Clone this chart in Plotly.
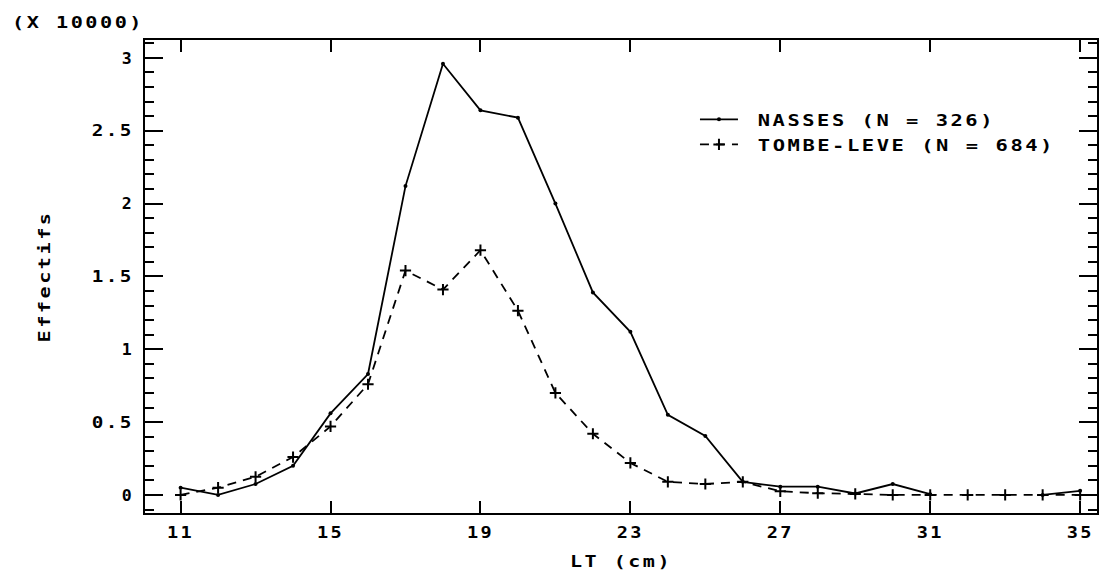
import plotly.graph_objects as go

lt = [11, 12, 13, 14, 15, 16, 17, 18, 19, 20, 21, 22, 23, 24, 25, 26, 27, 28, 29, 30, 31, 32, 33, 34, 35]
nasses = [0.05, 0.0, 0.075, 0.2, 0.56, 0.83, 2.12, 2.96, 2.64, 2.59, 2.0, 1.39, 1.12, 0.55, 0.405, 0.09,
          0.057, 0.057, 0.01, 0.075, 0.005, None, None, 0.0, 0.028]
tombe = [0.0, 0.05, 0.125, 0.26, 0.47, 0.76, 1.54, 1.41, 1.68, 1.265, 0.70, 0.42, 0.22, 0.09, 0.075, 0.09,
         0.025, 0.012, 0.007, 0.0, 0.0, 0.0, 0.0, 0.0, 0.0]
xticks = [11, 15, 19, 23, 27, 31, 35]
yticks = [0, 0.5, 1, 1.5, 2, 2.5, 3]
ytick_text = ["0", "0.5", "1", "1.5", "2", "2.5", "3"]

FONT = "DejaVu Sans Mono"
TXT = dict(family=FONT, size=16, color="black", weight="bold")

fig = go.Figure()
fig.add_trace(go.Scatter(
    x=lt, y=nasses, mode="lines+markers", name="\u00a0NASSES (N = 326)",
    line=dict(color="black", width=1.8),
    marker=dict(symbol="circle", size=4, color="black"),
    connectgaps=False, legend="legend",
))
fig.add_trace(go.Scatter(
    x=lt, y=tombe, mode="lines+markers", name="\u00a0TOMBE-LEVE (N = 684)",
    line=dict(color="black", width=1.8, dash="9px,7px"),
    marker=dict(symbol="cross-thin", size=8, color="black", line=dict(color="black", width=2)),
    legend="legend2",
))

leg_common = dict(x=0.5777, xanchor="left", yanchor="middle", bgcolor="rgba(0,0,0,0)",
                  font=TXT, itemwidth=38)

fig.update_layout(
    width=1109, height=574,
    margin=dict(l=145, r=12, t=40, b=61),
    paper_bgcolor="white", plot_bgcolor="white",
    font=TXT,
    showlegend=True,
    legend=dict(y=0.832, **leg_common),
    legend2=dict(y=0.779, **leg_common),
    xaxis=dict(
        range=[10.05, 35.45], tickvals=xticks, ticktext=[str(v) for v in xticks],
        ticks="inside", ticklen=12, tickwidth=1.5, tickcolor="black",
        showline=True, linecolor="black", linewidth=2, mirror="ticks",
        showgrid=False, zeroline=False, automargin=False,
        tickfont=TXT, ticklabelstandoff=4,
        title=dict(text="LT (cm)", font=TXT, standoff=15),
    ),
    yaxis=dict(
        range=[-0.124, 3.123], tickvals=yticks, ticktext=ytick_text,
        ticks="inside", ticklen=18, tickwidth=1.5, tickcolor="black",
        showline=True, linecolor="black", linewidth=2, mirror="ticks",
        showgrid=False, zeroline=False, automargin=False,
        tickfont=TXT, ticklabelstandoff=6,
        minor=dict(dtick=0.1, tick0=0, ticks="inside", ticklen=9, tickwidth=1.5, tickcolor="black", showgrid=False),
        title=dict(text="Effectifs", font=TXT, standoff=50),
    ),
)

fig.add_annotation(text="(X 10000)", xref="paper", yref="paper", x=-0.1418, y=1.0, yshift=18,
                   xanchor="left", yanchor="middle", align="left", showarrow=False, font=TXT)

# widen the glyphs to mimic the wide plotter lettering of the original
widen_js = """
var ADV = 15.0;
document.querySelectorAll('.main-svg text').forEach(function(t){
  var s = t.textContent;
  if (!s || !s.trim()) return;
  t.style.letterSpacing = '2px';
  t.setAttribute('textLength', (s.length * ADV - 3).toFixed(1));
  t.setAttribute('lengthAdjust', 'spacingAndGlyphs');
});
document.querySelectorAll('[class^="legend"] [clip-path]').forEach(function(e){
  e.removeAttribute('clip-path');
});
"""
fig.write_html("out.html", post_script=widen_js)
